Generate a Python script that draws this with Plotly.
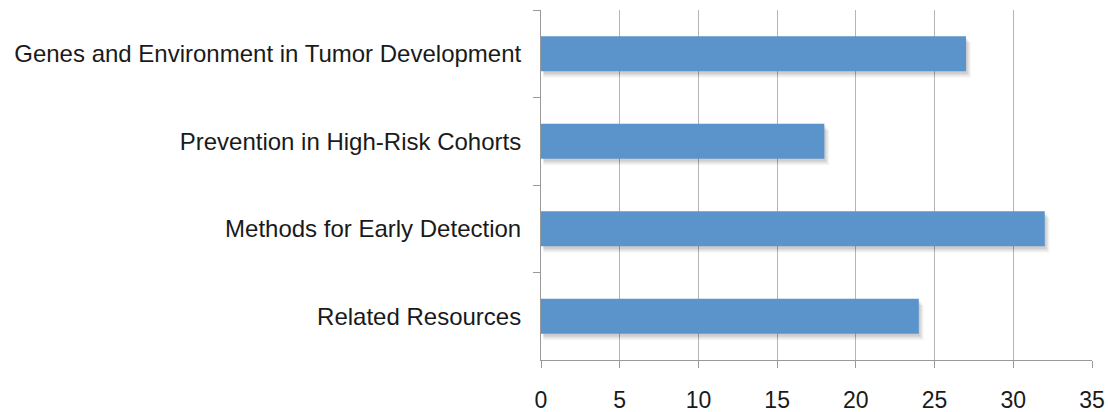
import plotly.graph_objects as go

categories = [
    "Genes and Environment in Tumor Development",
    "Prevention in High-Risk Cohorts",
    "Methods for Early Detection",
    "Related Resources",
]
values = [27, 18, 32, 24]
x_ticks = [0, 5, 10, 15, 20, 25, 30, 35]

fig = go.Figure()

# soft shadow layers
for dx, dy, a in [(0.3, 0.07, 0.05), (0.2, 0.05, 0.07), (0.1, 0.03, 0.08)]:
    fig.add_trace(go.Bar(
        y=categories, x=[v + dx - 0.15 for v in values], base=0.15,
        orientation="h", width=0.4, offset=-0.2 + dy,
        marker=dict(color=f"rgba(0,0,0,{a})", line=dict(width=0)),
        hoverinfo="skip", showlegend=False,
    ))

fig.add_trace(go.Bar(
    y=categories, x=values, orientation="h", width=0.4, offset=-0.2,
    marker=dict(color="#5b93cb", line=dict(width=0)),
    showlegend=False,
))

fig.update_layout(
    width=1108, height=412,
    margin=dict(l=541, r=16, t=10, b=52, autoexpand=False),
    plot_bgcolor="white", paper_bgcolor="white",
    barmode="overlay",
    font=dict(family="Liberation Sans, Arial, sans-serif", size=24, color="#1a1a1a"),
    xaxis=dict(
        range=[0, 35], tickvals=x_ticks, ticktext=[str(t) for t in x_ticks],
        showgrid=True, gridcolor="#b5b5b5", gridwidth=1,
        showline=True, linecolor="#999999", linewidth=1,
        ticks="outside", ticklen=7, tickcolor="#999999",
        zeroline=False, ticklabelstandoff=12, automargin=False,
        tickfont=dict(size=23),
    ),
    yaxis=dict(
        categoryorder="array", categoryarray=categories,
        autorange="reversed", automargin=False,
        showline=True, linecolor="#999999", linewidth=1,
        ticks="outside", ticklen=7, tickcolor="#999999",
        tickson="boundaries", showgrid=False,
        ticklabelstandoff=14,
        tickfont=dict(size=24),
    ),
)

fig.write_html("out.html")
